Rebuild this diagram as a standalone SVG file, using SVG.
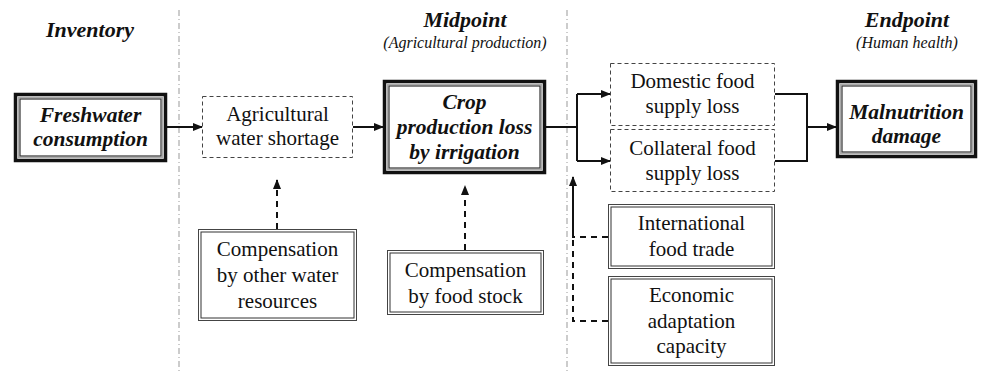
<svg xmlns="http://www.w3.org/2000/svg" width="990" height="373" viewBox="0 0 990 373" font-family="'Liberation Serif', 'DejaVu Serif', serif">
<defs>
<style>
text{font-family:"Liberation Serif","DejaVu Serif",serif;fill:#111;text-anchor:middle}
.h{font-size:22px;font-weight:bold;font-style:italic}
.sub{font-size:16px;font-style:italic}
.b{font-size:21.5px;font-weight:bold;font-style:italic}
.n{font-size:21px}
.div{stroke:#999;stroke-width:1;stroke-dasharray:6 3 1 3;fill:none}
.outer{fill:#fff;stroke:#111;stroke-width:3.5}
.inner{fill:none;stroke:#333;stroke-width:1.2}
.gap{fill:none;stroke:#aaa;stroke-width:1.5}
.dbo{fill:#fff;stroke:#444;stroke-width:1}
.dbi{fill:none;stroke:#333;stroke-width:1}
.dash{fill:#fff;stroke:#444;stroke-width:1;stroke-dasharray:4 3}
.c{fill:none;stroke:#111;stroke-width:2}
.cd{fill:none;stroke:#111;stroke-width:2;stroke-dasharray:6 5}
</style>
<marker id="ah" viewBox="0 0 10 10" refX="9" refY="5" markerWidth="5" markerHeight="5" orient="auto" markerUnits="strokeWidth">
<path d="M0,1 L10,5 L0,9 Z" fill="#111"/>
</marker>
</defs>

<g id="dividers">
<line class="div" x1="179" y1="10" x2="179" y2="373"/>
<line class="div" x1="567" y1="10" x2="567" y2="373"/>
</g>

<g id="headers">
<text class="h" x="90" y="37">Inventory</text>
<text class="h" x="465" y="27">Midpoint</text>
<text class="sub" x="465" y="48">(Agricultural production)</text>
<text class="h" x="907" y="27">Endpoint</text>
<text class="sub" x="907" y="48">(Human health)</text>
</g>

<g id="connectors">
<line class="c" x1="167" y1="127" x2="202" y2="127" marker-end="url(#ah)"/>
<line class="c" x1="353" y1="127" x2="383" y2="127" marker-end="url(#ah)"/>
<path class="c" d="M546,127 H577"/>
<path class="c" d="M577,94 V161"/>
<line class="c" x1="577" y1="94" x2="610" y2="94" marker-end="url(#ah)"/>
<line class="c" x1="577" y1="161" x2="610" y2="161" marker-end="url(#ah)"/>
<path class="c" d="M775,94 H807 V161 H775"/>
<line class="c" x1="807" y1="127" x2="836" y2="127" marker-end="url(#ah)"/>
<line class="cd" x1="277" y1="229" x2="277" y2="180" marker-end="url(#ah)"/>
<line class="cd" x1="465" y1="250" x2="465" y2="186" marker-end="url(#ah)"/>
<path class="cd" d="M608,237 H573 V200"/>
<path class="cd" d="M608,321 H573 V237"/>
<line class="c" x1="573" y1="237" x2="573" y2="177" marker-end="url(#ah)"/>
</g>

<g id="freshwater">
<rect class="outer" x="15.5" y="94.5" width="150" height="66"/>
<rect class="gap" x="18.5" y="97.5" width="144" height="60"/>
<rect class="inner" x="20" y="99" width="141" height="57"/>
<text class="b" x="90.5" y="122">Freshwater</text>
<text class="b" x="90.5" y="146">consumption</text>
</g>

<g id="agri-water-shortage">
<rect class="dash" x="202.5" y="96.5" width="150" height="61"/>
<text class="n" x="277.5" y="121">Agricultural</text>
<text class="n" x="277.5" y="145">water shortage</text>
</g>

<g id="crop-loss">
<rect class="outer" x="384.5" y="81.5" width="160" height="91"/>
<rect class="gap" x="387.5" y="84.5" width="154" height="85"/>
<rect class="inner" x="389" y="86" width="151" height="82"/>
<text class="b" x="464.5" y="109">Crop</text>
<text class="b" x="464.5" y="134">production loss</text>
<text class="b" x="464.5" y="159">by irrigation</text>
</g>

<g id="domestic">
<rect class="dash" x="610.5" y="63.5" width="164" height="62"/>
<text class="n" x="692.5" y="88">Domestic food</text>
<text class="n" x="692.5" y="113">supply loss</text>
</g>

<g id="collateral">
<rect class="dash" x="610.5" y="129.5" width="164" height="62"/>
<text class="n" x="692.5" y="155">Collateral food</text>
<text class="n" x="692.5" y="180">supply loss</text>
</g>

<g id="malnutrition">
<rect class="outer" x="837.5" y="81.5" width="138" height="75"/>
<rect class="gap" x="840.5" y="84.5" width="132" height="69"/>
<rect class="inner" x="842" y="86" width="129" height="66"/>
<text class="b" x="906.5" y="119">Malnutrition</text>
<text class="b" x="906.5" y="143">damage</text>
</g>

<g id="comp-water">
<rect class="dbo" x="198.5" y="229.5" width="158" height="91"/>
<rect class="dbi" x="201" y="232" width="153" height="86"/>
<text class="n" x="277.5" y="256">Compensation</text>
<text class="n" x="277.5" y="282">by other water</text>
<text class="n" x="277.5" y="308">resources</text>
</g>

<g id="comp-stock">
<rect class="dbo" x="387.5" y="250.5" width="156" height="64"/>
<rect class="dbi" x="390" y="253" width="151" height="59"/>
<text class="n" x="465.5" y="277">Compensation</text>
<text class="n" x="465.5" y="303">by food stock</text>
</g>

<g id="intl-trade">
<rect class="dbo" x="608.5" y="204.5" width="166" height="64"/>
<rect class="dbi" x="611" y="207" width="161" height="59"/>
<text class="n" x="691.5" y="230">International</text>
<text class="n" x="691.5" y="256">food trade</text>
</g>

<g id="econ-capacity">
<rect class="dbo" x="608.5" y="276.5" width="166" height="89"/>
<rect class="dbi" x="611" y="279" width="161" height="84"/>
<text class="n" x="691.5" y="302">Economic</text>
<text class="n" x="691.5" y="328">adaptation</text>
<text class="n" x="691.5" y="353">capacity</text>
</g>
</svg>
